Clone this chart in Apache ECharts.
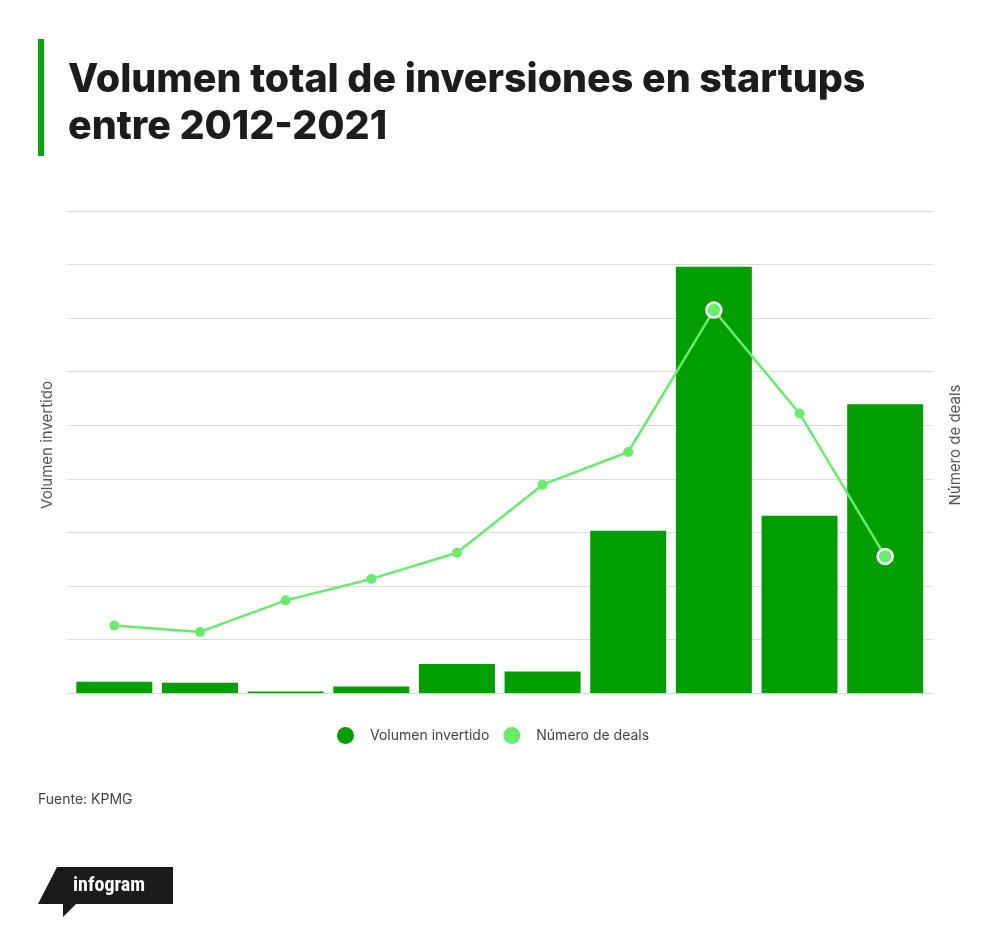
<!DOCTYPE html>
<html>
<head>
<meta charset="utf-8">
<script src="https://cdn.jsdelivr.net/npm/echarts@6/dist/echarts.min.js"></script>
<style>
html,body{margin:0;padding:0;background:#fff;}
#chart{width:1000px;height:936px;}
</style>
</head>
<body>
<div id="chart"></div>
<script>
// ---- data ----
const categories = ['2012','2013','2014','2015','2016','2017','2018','2019','2020','2021'];
const volumenInvertido = [210, 190, 30, 120, 540, 400, 3030, 7960, 3310, 5390];
const numeroDeals = [126, 114, 173, 213, 262, 389, 450, 715, 522, 255];
const titleLines = ['Volumen total de inversiones en startups', 'entre 2012-2021'];
const sourceText = 'Fuente: KPMG';

// ---- styling ----
const BAR_COLOR = '#029e02';
const LINE_COLOR = '#68ec6c';
const FONT = 'Inter, Roboto, sans-serif';
const highlightedPoints = [7, 9];

const chart = echarts.init(document.getElementById('chart'), null, {renderer: 'canvas'});

const lineData = numeroDeals.map((v, i) => highlightedPoints.includes(i)
  ? {value: v, symbolSize: 15, itemStyle: {borderColor: '#ffffff', borderWidth: 2.5}}
  : v);

chart.setOption({
  backgroundColor: '#ffffff',
  animation: false,
  textStyle: {fontFamily: FONT},
  title: {
    text: titleLines.join('\n'),
    left: 63,
    top: 52,
    textStyle: {
      fontFamily: FONT,
      fontSize: 39.4,
      fontWeight: 800,
      color: '#1c1c1c',
      lineHeight: 47
    }
  },
  graphic: [
    {type: 'rect', left: 38, top: 39, shape: {width: 6, height: 117}, style: {fill: '#0aa50a'}},
    {type: 'text', left: 38, top: 793, style: {text: sourceText, fontSize: 14, fill: '#444', fontFamily: FONT}},
    {type: 'polygon', shape: {points: [[57,867],[173,867],[173,904],[76,904],[63,917],[63,904],[38,904]]}, style: {fill: '#1a1a1a'}},
    {type: 'text', left: 73, top: 876, style: {text: 'infogram', fontSize: 20, fontWeight: 'bold', fill: '#ffffff', fontFamily: '"Roboto Condensed", "Liberation Sans Narrow", Roboto, sans-serif'}}
  ],
  legend: {
    top: 722,
    left: 332,
    itemWidth: 17,
    itemHeight: 17,
    itemGap: 14,
    icon: 'circle',
    textStyle: {fontSize: 14, color: '#444', fontFamily: FONT, padding: [0, 0, 0, 11]},
    data: [
      {name: 'Volumen invertido', itemStyle: {color: BAR_COLOR}},
      {name: 'Número de deals', itemStyle: {color: LINE_COLOR, borderWidth: 0}}
    ]
  },
  grid: [
    {left: 67, right: 67, top: 211, bottom: 243, containLabel: false},
    {left: 71.5, right: 72, top: 211, bottom: 243, containLabel: false}
  ],
  xAxis: [
    {
      type: 'category', gridIndex: 0, data: categories,
      axisLine: {show: true, lineStyle: {color: '#d6d6d6', width: 1}},
      axisTick: {show: false}, axisLabel: {show: false}
    },
    {
      type: 'category', gridIndex: 1, data: categories,
      axisLine: {show: false}, axisTick: {show: false}, axisLabel: {show: false}
    }
  ],
  yAxis: [
    {
      type: 'value', gridIndex: 0, min: 0, max: 9000, interval: 1000,
      axisLabel: {show: false}, axisTick: {show: false}, axisLine: {show: false},
      splitLine: {show: true, lineStyle: {color: '#dcdcdc', width: 1}}
    },
    {
      type: 'value', gridIndex: 1, min: 0, max: 9000, interval: 1000,
      name: 'Volumen invertido', nameLocation: 'middle', nameGap: 17, nameRotate: 90,
      nameTextStyle: {fontSize: 15, color: '#555', fontFamily: FONT, padding: [0, 0, 0, 14]},
      axisLabel: {show: false}, axisTick: {show: false}, axisLine: {show: false},
      splitLine: {show: false}
    },
    {
      type: 'value', gridIndex: 1, position: 'right', min: 0, max: 900, interval: 100,
      name: 'Número de deals', nameLocation: 'middle', nameGap: 20, nameRotate: 90,
      nameTextStyle: {fontSize: 15, color: '#555', fontFamily: FONT, padding: [0, 0, 0, 14]},
      axisLabel: {show: false}, axisTick: {show: false}, axisLine: {show: false},
      splitLine: {show: false}
    }
  ],
  series: [
    {
      name: 'Volumen invertido', type: 'bar', xAxisIndex: 1, yAxisIndex: 1,
      data: volumenInvertido,
      barCategoryGap: '11.3%',
      itemStyle: {color: BAR_COLOR}
    },
    {
      name: 'Número de deals', type: 'line', xAxisIndex: 1, yAxisIndex: 2,
      data: lineData,
      symbol: 'circle', symbolSize: 10,
      lineStyle: {color: LINE_COLOR, width: 2.5},
      itemStyle: {color: LINE_COLOR},
      z: 5
    }
  ]
});
</script>
</body>
</html>
